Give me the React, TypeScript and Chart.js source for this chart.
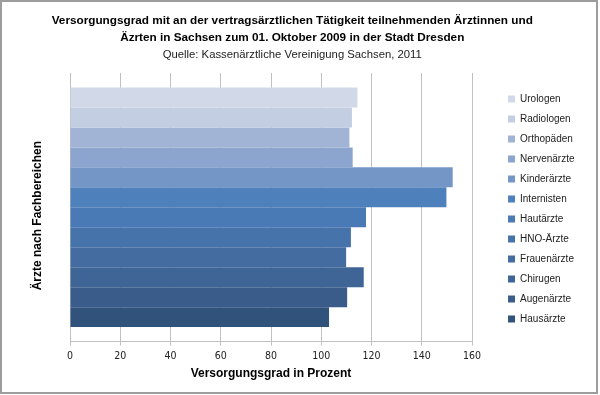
import React, { useEffect, useRef } from "react";
import { Chart, registerables } from "chart.js";

Chart.register(...registerables);

const categories = [
  "Urologen",
  "Radiologen",
  "Orthopäden",
  "Nervenärzte",
  "Kinderärzte",
  "Internisten",
  "Hautärzte",
  "HNO-Ärzte",
  "Frauenärzte",
  "Chirugen",
  "Augenärzte",
  "Hausärzte",
];

const values = [114.4, 112.2, 111.2, 112.5, 152.3, 149.8, 117.8, 111.8, 109.9, 116.9, 110.3, 103.1];

const colors = [
  "#D1D9E8",
  "#C3CEE3",
  "#A1B4D6",
  "#8BA5CE",
  "#7496C7",
  "#4E80BC",
  "#4A7AB5",
  "#4773AB",
  "#446CA1",
  "#3F6596",
  "#3A5C8A",
  "#31527B",
];

const titleLines = [
  "Versorgungsgrad mit an der vertragsärztlichen Tätigkeit teilnehmenden Ärztinnen und",
  "Äzrten in Sachsen zum 01. Oktober 2009 in der Stadt Dresden",
];
const subtitleText = "Quelle: Kassenärztliche Vereinigung Sachsen, 2011";
const xTitle = "Versorgungsgrad in Prozent";
const yTitle = "Ärzte nach Fachbereichen     ";

const SANS = "'Liberation Sans', Arial, sans-serif";
const NARROW = "'Liberation Sans Narrow', 'DejaVu Sans Condensed', 'Liberation Sans', sans-serif";

const borderPlugin = {
  id: "outerBorder",
  afterDraw(chart: any) {
    const ctx = chart.ctx;
    ctx.save();
    ctx.strokeStyle = "#9C9C9C";
    ctx.lineWidth = 2;
    ctx.strokeRect(1, 1, chart.width - 4, chart.height - 3);
    ctx.restore();
  },
};

const bgPlugin = {
  id: "bg",
  beforeDraw(chart: any) {
    const ctx = chart.ctx;
    ctx.save();
    ctx.fillStyle = "#FFFFFF";
    ctx.fillRect(0, 0, chart.width, chart.height);
    ctx.restore();
  },
};

export default function App() {
  const ref = useRef<HTMLCanvasElement | null>(null);

  useEffect(() => {
    if (!ref.current) return;
    const chart = new Chart(ref.current, {
      type: "bar",
      data: {
        labels: [""],
        datasets: categories.map((c, i) => ({
          label: c,
          data: [values[i]],
          backgroundColor: colors[i],
          borderWidth: 0,
          categoryPercentage: 0.892,
          barPercentage: 1,
        })),
      },
      options: {
        indexAxis: "y",
        responsive: false,
        devicePixelRatio: 1,
        animation: false,
        font: { family: SANS },
        layout: { padding: { left: 0, right: 15.5, top: 4, bottom: 9.8 } },
        plugins: {
          tooltip: { enabled: false },
          title: {
            display: true,
            text: titleLines,
            color: "#000",
            font: { family: SANS, size: 11.75, weight: "bold", lineHeight: "17px" },
            padding: { top: 8.5, bottom: 0 },
          },
          subtitle: {
            display: true,
            text: subtitleText,
            color: "#222",
            font: { family: SANS, size: 11.3, weight: "normal", lineHeight: "13px" },
            padding: { top: 1.7, bottom: 11.8 },
          },
          legend: {
            display: true,
            position: "right",
            align: "start",
            title: { display: true, text: "", font: { size: 10, lineHeight: "80px" }, padding: 0 },
            labels: {
              boxWidth: 7,
              boxHeight: 7,
              padding: 10,
              color: "#222",
              font: { family: SANS, size: 10 },
            },
          },
        },
        scales: {
          x: {
            type: "linear",
            min: 0,
            max: 160,
            ticks: {
              stepSize: 20,
              color: "#222",
              padding: 4,
              font: { family: NARROW, size: 10.5 },
            },
            grid: { color: "#C0C0C0", tickLength: 4, drawTicks: true },
            border: { display: true, color: "#C0C0C0" },
            title: {
              display: true,
              text: xTitle,
              color: "#000",
              font: { family: SANS, size: 12, weight: "bold" },
              padding: { top: 0.6, bottom: 4 },
            },
          },
          y: {
            type: "category",
            grid: { display: false, drawTicks: false },
            border: { display: false },
            ticks: { display: false },
            title: {
              display: true,
              text: yTitle,
              color: "#000",
              font: { family: SANS, size: 12, weight: "bold", lineHeight: "14px" },
              padding: { top: 31, bottom: 25 },
            },
          },
          y2: {
            type: "linear",
            position: "right",
            display: true,
            grid: { display: false, drawTicks: false },
            border: { display: false },
            ticks: { display: false },
            title: {
              display: true,
              text: "",
              font: { size: 10, lineHeight: "10px" },
              padding: { top: 8, bottom: 8 },
            },
          },
        },
      },
      plugins: [bgPlugin, borderPlugin],
    } as any);
    return () => chart.destroy();
  }, []);

  return (
    <div style={{ position: "fixed", left: 0, top: 0, width: 600, height: 395 }}>
      <canvas ref={ref} width={600} height={395} style={{ width: 600, height: 395, display: "block" }} />
    </div>
  );
}
